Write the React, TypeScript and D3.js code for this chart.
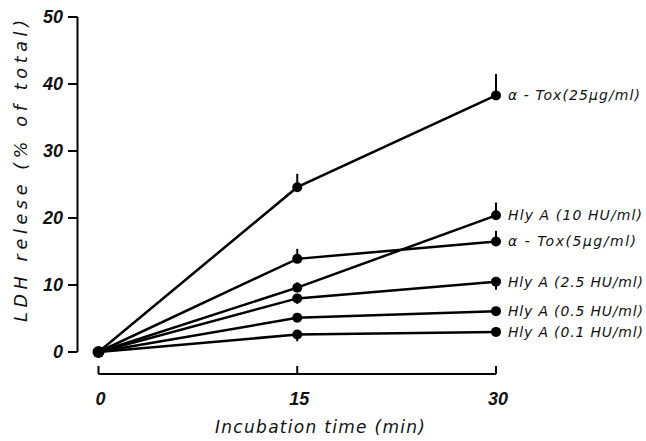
import React from "react";
import * as d3 from "d3";

const times = [0, 15, 30];
const seriesNames = [
  "α - Tox(25μg/ml)",
  "Hly A (10 HU/ml)",
  "α - Tox(5μg/ml)",
  "Hly A (2.5 HU/ml)",
  "Hly A (0.5 HU/ml)",
  "Hly A (0.1 HU/ml)",
];
const tox25 = [0, 24.6, 38.3];
const hly10 = [0, 9.6, 20.4];
const tox5 = [0, 13.9, 16.5];
const hly25 = [0, 8.0, 10.5];
const hly05 = [0, 5.1, 6.1];
const hly01 = [0, 2.6, 3.0];
const errUp = [
  [0, 2.0, 3.2],
  [0, 0.8, 1.9],
  [0, 1.5, 1.6],
  [0, 0.6, 0.5],
  [0, 0.4, 0.4],
  [0, 0.4, 0.4],
];
const errDown = [
  [0, 0, 0],
  [0, 0.6, 0],
  [0, 0, 0],
  [0, 0.8, 1.2],
  [0, 0.6, 0.3],
  [0, 1.0, 0.3],
];
const yTicks = [0, 10, 20, 30, 40, 50];
const xTicks = [0, 15, 30];

const allSeries = [tox25, hly10, tox5, hly25, hly05, hly01];
const labelLen = [132, 134, 128, 135, 135, 135];

export default function App() {
  const W = 646, H = 441;
  const x = d3.scaleLinear().domain([0, 30]).range([98.5, 496]);
  const y = d3.scaleLinear().domain([0, 50]).range([352, 17]);
  const line = d3.line<number>().x((_, i) => x(times[i])).y((v) => y(v));
  const font = "'Liberation Sans', Arial, sans-serif";
  const font2 = "'DejaVu Sans', sans-serif";
  return (
    <svg width={W} height={H} style={{ position: "absolute", left: 0, top: 0, background: "#fff" }}>
      {/* y axis */}
      <line x1={77.5} x2={77.5} y1={y(50)} y2={y(0)} stroke="#000" strokeWidth={2} />
      {yTicks.map((t) => (
        <g key={t}>
          <line x1={68} x2={77.5} y1={y(t)} y2={y(t)} stroke="#000" strokeWidth={2} />
          <text x={63} y={y(t)} dy="0.36em" textAnchor="end" fontFamily={font} fontStyle="italic" fontWeight="bold" fontSize={18} fill="#111">{t}</text>
        </g>
      ))}
      {/* x axis */}
      <line x1={x(0)} x2={x(30)} y1={374} y2={374} stroke="#000" strokeWidth={2} />
      {xTicks.map((t) => (
        <g key={t}>
          <line x1={x(t)} x2={x(t)} y1={366} y2={374} stroke="#000" strokeWidth={2} />
          <text x={x(t) + 2} y={399} dy="0.36em" textAnchor="middle" fontFamily={font} fontStyle="italic" fontWeight="bold" fontSize={18} fill="#111">{t}</text>
        </g>
      ))}
      <text x={215} y={427} dy="0.36em" textLength={210} lengthAdjust="spacing" fontFamily={font2} fontStyle="italic" fontSize={17} fill="#111">Incubation time (min)</text>
      <text transform="translate(21,322) rotate(-90)" dy="0.36em" textLength={302} lengthAdjust="spacing" fontFamily={font2} fontStyle="italic" fontSize={17.5} fill="#111">LDH relese  (% of total)</text>
      {/* series */}
      {allSeries.map((s, si) => (
        <g key={si}>
          <path d={line(s) || ""} fill="none" stroke="#000" strokeWidth={2.5} />
          {s.map((v, i) =>
            i === 0 ? null : (
              <g key={i}>
                <line x1={x(times[i])} x2={x(times[i])} y1={y(v - errDown[si][i])} y2={y(v + errUp[si][i])} stroke="#000" strokeWidth={2} />
                <circle cx={x(times[i])} cy={y(v)} r={5} fill="#000" />
              </g>
            )
          )}
          <text x={508} y={y(s[2])} dy="0.36em" textLength={labelLen[si]} lengthAdjust="spacing" fontFamily={font2} fontStyle="italic" fontSize={14} fill="#111">{seriesNames[si]}</text>
        </g>
      ))}
      <circle cx={x(0)} cy={y(0)} r={6} fill="#000" />
    </svg>
  );
}
